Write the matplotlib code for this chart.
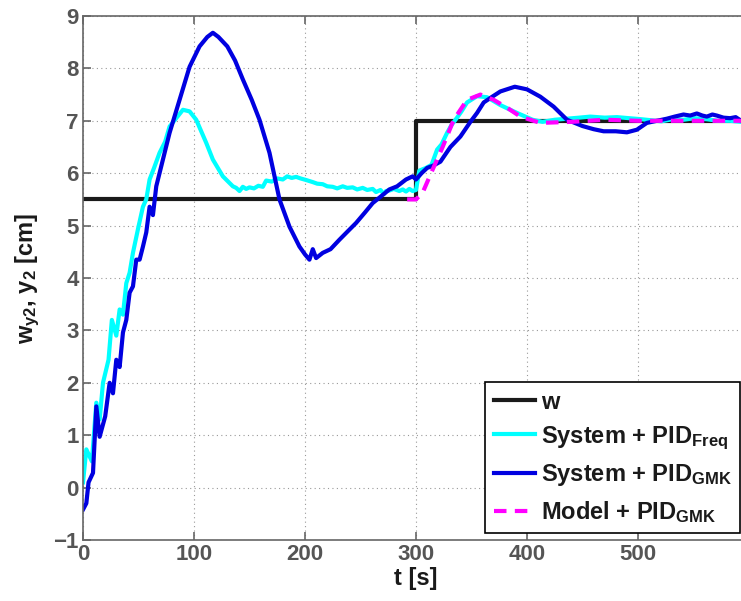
#!/usr/bin/env python3
"""Step response comparison: PID_Freq vs PID_GMK on system and model."""

import matplotlib
matplotlib.use('Agg')
import matplotlib.pyplot as plt
import numpy as np

# reference signal w
t_w = [0, 300, 300, 600]
y_w = [5.5, 5.5, 7.0, 7.0]

# System + PID_Freq (cyan)
t_freq = [0, 3, 8, 12, 15, 18, 23, 26, 30, 33, 36, 39, 42, 45, 50, 54, 57, 60, 64, 69, 74, 78,
          84, 90, 96, 102, 111, 117, 126, 135, 138, 141, 144, 147, 150, 154, 158, 162, 165,
          170, 175, 180, 184, 188, 192, 196, 201, 207, 211, 216, 220, 225, 229, 234, 238,
          243, 247, 252, 256, 261, 264, 268, 271, 273, 276, 280, 285, 288, 291, 294, 297,
          300, 303, 309, 314, 319, 323, 328, 332, 337, 341, 346, 355, 364, 376, 391, 405,
          414, 425, 436, 447, 457, 470, 481, 492, 503, 512, 521, 531, 541, 551, 562, 572,
          583, 593]
y_freq = [0.1, 0.73, 0.5, 1.62, 1.3, 2.0, 2.44, 3.2, 2.9, 3.4, 3.3, 3.9, 4.1, 4.48, 4.98, 5.36,
          5.5, 5.88, 6.1, 6.39, 6.6, 6.89, 7.05, 7.21, 7.18, 7.02, 6.58, 6.26, 5.94, 5.75,
          5.72, 5.66, 5.74, 5.7, 5.73, 5.71, 5.76, 5.74, 5.86, 5.84, 5.9, 5.88, 5.94, 5.91,
          5.93, 5.9, 5.87, 5.83, 5.8, 5.79, 5.75, 5.74, 5.71, 5.75, 5.72, 5.73, 5.69, 5.72,
          5.68, 5.7, 5.64, 5.68, 5.6, 5.66, 5.67, 5.7, 5.66, 5.69, 5.65, 5.7, 5.66, 5.68,
          6.05, 6.1, 6.16, 6.45, 6.55, 6.77, 6.92, 7.06, 7.18, 7.35, 7.47, 7.45, 7.3, 7.15,
          7.02, 6.98, 7.02, 7.04, 7.06, 7.08, 7.06, 7.07, 7.05, 7.03, 7.01, 6.99, 7.03, 7.02,
          7.05, 7.03, 7.0, 7.0, 6.98]

# System + PID_GMK (blue)
t_gmk = [0, 3, 5, 9, 12, 15, 20, 24, 27, 30, 33, 36, 39, 42, 45, 48, 51, 54, 57, 60, 63, 66,
         72, 78, 87, 96, 105, 112, 117, 122, 130, 137, 144, 152, 159, 168, 177, 186, 195,
         200, 204, 207, 210, 216, 223, 231, 238, 246, 254, 261, 268, 276, 283, 291, 297,
         300, 305, 310, 316, 322, 331, 340, 349, 355, 361, 368, 376, 389, 400, 412, 424,
         436, 450, 460, 469, 480, 490, 499, 508, 517, 526, 533, 541, 547, 553, 558, 562,
         567, 571, 577, 583, 588, 593]
y_gmk = [-0.42, -0.3, 0.1, 0.28, 1.55, 0.97, 1.36, 2.0, 1.8, 2.44, 2.3, 2.96, 3.2, 3.72, 3.84,
         4.35, 4.35, 4.6, 4.87, 5.36, 5.2, 5.75, 6.26, 6.77, 7.4, 8.03, 8.42, 8.6, 8.68,
         8.6, 8.42, 8.15, 7.79, 7.4, 7.02, 6.39, 5.5, 4.98, 4.6, 4.45, 4.35, 4.55, 4.38,
         4.48, 4.55, 4.73, 4.88, 5.05, 5.25, 5.43, 5.55, 5.69, 5.75, 5.88, 5.94, 5.88,
         6.0, 6.1, 6.15, 6.22, 6.5, 6.7, 6.98, 7.15, 7.35, 7.45, 7.56, 7.65, 7.6, 7.46,
         7.27, 7.02, 6.9, 6.84, 6.8, 6.8, 6.78, 6.83, 6.96, 7.0, 7.04, 7.08, 7.12, 7.1,
         7.14, 7.1, 7.08, 7.12, 7.1, 7.06, 7.05, 7.07, 7.0]

# Model + PID_GMK (magenta dashed)
t_model = [292, 300, 306, 315, 324, 334, 346, 358, 370, 382, 394, 412, 440, 470, 500, 550, 600]
y_model = [5.5, 5.5, 5.63, 6.07, 6.5, 7.02, 7.4, 7.5, 7.4, 7.25, 7.08, 6.96, 6.98, 7.02,
           7.0, 7.0, 7.0]

plt.rcParams['font.family'] = ['Liberation Sans', 'DejaVu Sans']
plt.rcParams['font.weight'] = 'bold'
plt.rcParams['mathtext.fontset'] = 'custom'
plt.rcParams['mathtext.rm'] = 'Liberation Sans:bold'
plt.rcParams['mathtext.bf'] = 'Liberation Sans:bold'
plt.rcParams['mathtext.default'] = 'bf'

fig = plt.figure(figsize=(7.41, 6.01), dpi=100)
# right edge of axes lies outside the picture (clipped like the original)
ax = fig.add_axes([83 / 741, 61 / 601, (749 - 83) / 741, (540 - 16) / 601])

ax.plot(t_w, y_w, color='#1a1a1a', linewidth=3, label='w')
ax.plot(t_freq, y_freq, color='cyan', linewidth=3, label=r'System + PID$_{\mathbf{Freq}}$')
ax.plot(t_gmk, y_gmk, color='#0000e0', linewidth=3, label=r'System + PID$_{\mathbf{GMK}}$')
ax.plot(t_model, y_model, color='magenta', linewidth=3, linestyle=(0, (3, 2)),
        label=r'Model + PID$_{\mathbf{GMK}}$')

ax.set_xlim(0, 600)
ax.set_ylim(-1, 9)
ax.set_xticks([0, 100, 200, 300, 400, 500])
ax.set_yticks(range(-1, 10))
ax.grid(True, linestyle=(0, (1, 3)), color='#999999', linewidth=0.8)

for s in ax.spines.values():
    s.set_color('#666666')
    s.set_linewidth(1.2)
ax.tick_params(direction='in', top=True, right=True, length=6, width=1.2,
               colors='#666666', labelcolor='#555555', pad=3, labelsize=16)
for lab in ax.get_xticklabels() + ax.get_yticklabels():
    lab.set_fontweight('bold')

ax.set_xlabel('t [s]', fontsize=17, fontweight='bold', color='#1a1a1a', labelpad=1)
ax.set_ylabel(r'w$_{\mathbf{y2}}$, y$_{\mathbf{2}}$ [cm]', fontsize=17, fontweight='bold',
              color='#1a1a1a', labelpad=8)

leg = ax.legend(loc='lower right', bbox_to_anchor=(740 / 741, 68 / 601),
                bbox_transform=fig.transFigure,
                fontsize=17, fancybox=False, framealpha=1, edgecolor='black',
                handlelength=1.75, handletextpad=0.25, borderpad=0.35, labelspacing=0.45,
                borderaxespad=0)
leg.get_frame().set_linewidth(1.2)
for txt in leg.get_texts():
    txt.set_color('#1a1a1a')

fig.savefig('out.png', dpi=100)
